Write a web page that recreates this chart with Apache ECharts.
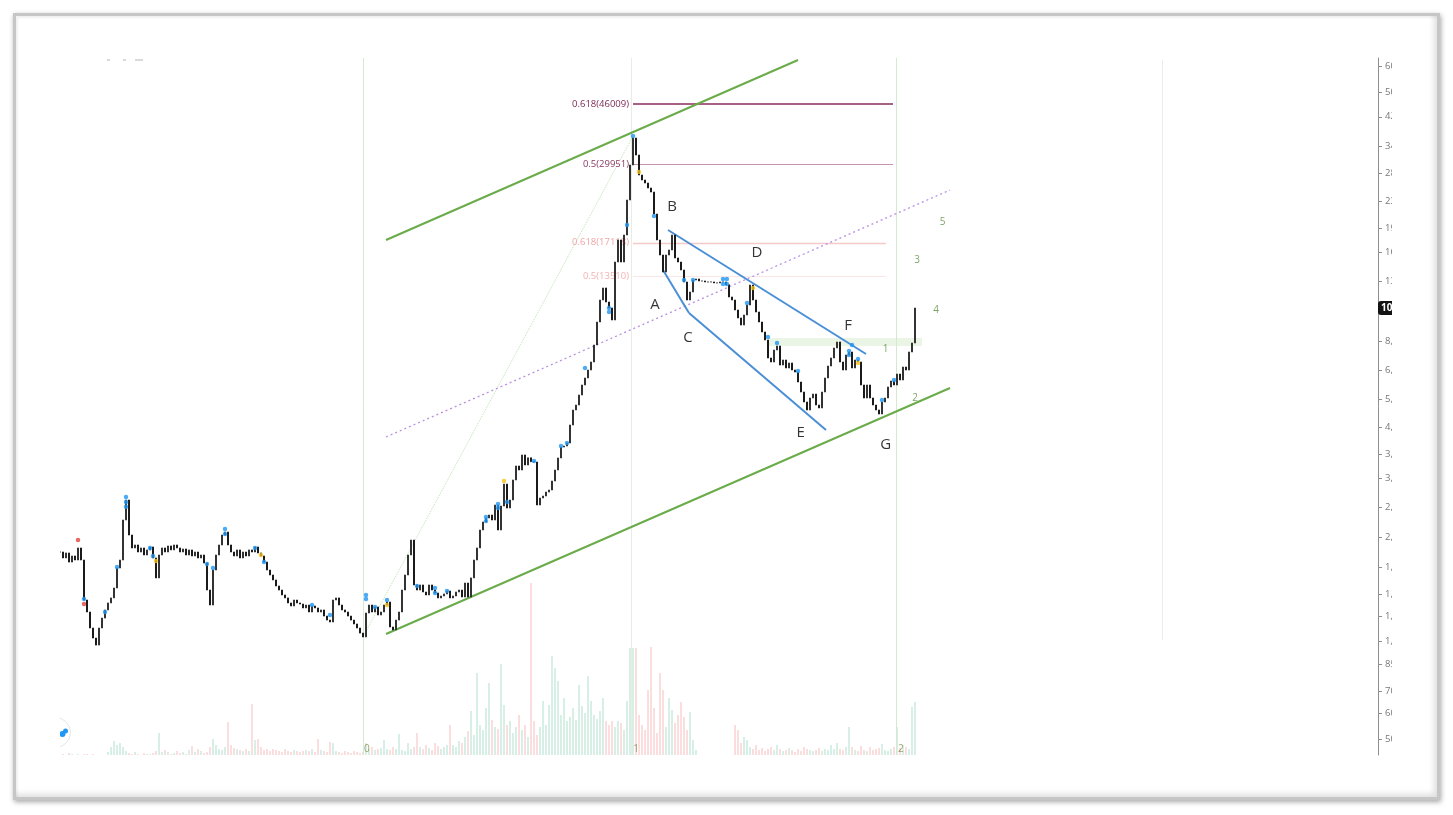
<!DOCTYPE html>
<html>
<head>
<meta charset="utf-8">
<script src="https://cdn.jsdelivr.net/npm/echarts@6/dist/echarts.min.js"></script>
<style>
html,body{margin:0;padding:0;background:#fff;width:1453px;height:815px;overflow:hidden;}
#frame{position:absolute;left:13px;top:13px;width:1427px;height:787px;box-sizing:border-box;border:3px solid #c6c6c6;background:#fff;
 box-shadow:1px 2px 5px rgba(0,0,0,0.35), inset -7px -7px 6px -4px rgba(0,0,0,0.13), inset 2px 2px 2px rgba(0,0,0,0.06);}
#chart{position:absolute;left:60px;top:0;width:1380px;height:815px;}
#mask{position:absolute;left:1392px;top:19px;width:34px;height:768px;background:#fff;}
</style>
</head>
<body>
<div id="frame"></div>
<div id="chart"></div>
<div id="mask"></div>
<script>
// ---------- data ----------
const closes = [
1892,1813,1879,1761,1839,1787,1947,1787,1344,1234,
1101,1025,975,1101,1182,1252,1316,1364,1464,1688,
1787,2376,2740,2135,1947,1989,1892,1947,1852,1920,
1961,1813,1573,1852,1947,1892,1975,1920,1989,1947,
1892,1933,1852,1920,1839,1892,1813,1852,1749,1443,
1297,1664,1852,1989,2135,2181,1989,1892,1839,1920,
1813,1892,1839,1920,1892,1961,1879,1839,1761,1664,
1606,1550,1485,1443,1393,1364,1316,1288,1344,1316,
1306,1270,1297,1234,1288,1270,1234,1252,1199,1165,
1149,1344,1364,1297,1252,1234,1199,1165,1133,1101,
1062,1033,1225,1297,1234,1279,1208,1234,1297,1325,
1109,1086,1165,1234,1443,1606,1852,2060,1496,1443,
1496,1423,1393,1496,1443,1413,1364,1383,1403,1433,
1364,1383,1423,1443,1373,1517,1373,1573,1787,1947,
2213,2343,2410,2462,2376,2644,2213,2625,3070,2588,
2740,3160,3491,3393,3776,3516,3700,3600,3592,2644,
2779,2819,2900,2942,3137,3393,3696,3996,4025,4112,
4675,5202,5390,5788,6216,6534,6916,7322,8264,9735,
11387,12404,11226,10757,9876,14926,17458,14926,18091,23213,
29783,36100,31981,27736,26766,26201,25285,24574,21009,17458,
15689,13900,15689,16258,18091,15358,14926,14099,12945,11387,
12055,13130,13225,13040,13040,12950,12950,12950,12860,12860,
12950,12950,12690,11633,11387,10605,10018,9529,10233,10988,
12670,11387,10455,9735,9067,8564,7534,7322,7975,8206,
7166,7427,7016,7270,6916,6819,6350,5913,5507,5202,
5666,5829,5390,5277,5913,6534,7116,7534,8090,8443,
7322,6916,7696,7863,7016,7427,7322,6216,5666,6216,
5666,5390,5202,5055,5507,5666,6128,6395,6216,6722,
6441,7065,6916,7863,8383,10757
];
const volumes = [
0,1,0,2,1,0,1,0,1,1,
0,1,0,0,0,0,3,8,14,10,
12,8,4,2,1,3,1,0,2,1,
1,2,4,22,3,5,3,1,2,4,
2,3,1,5,9,3,6,4,2,3,
8,16,10,6,5,8,33,10,7,6,
5,4,6,4,51,15,16,8,5,6,
4,6,5,4,3,6,4,3,5,4,
3,4,5,4,6,3,16,5,4,3,
13,12,4,3,2,4,3,2,4,3,
2,3,12,6,8,5,6,7,15,6,
5,8,6,21,5,4,12,6,8,22,
8,6,10,7,5,12,9,6,8,10,
30,10,8,14,12,18,24,44,20,82,
30,25,47,72,35,28,26,91,50,30,
34,22,28,40,25,30,18,172,34,20,
28,54,30,50,99,87,74,40,57,34,
38,47,35,70,49,42,79,54,40,36,
44,57,34,30,34,28,34,32,25,54,
107,107,107,40,30,25,65,108,47,22,
82,65,28,57,45,32,40,53,38,25,
43,15,5,0,0,0,0,0,0,0,
0,0,0,0,0,30,25,12,18,15,
8,6,10,5,7,4,6,8,5,10,
6,4,5,7,5,3,6,4,8,6,
5,4,5,7,4,6,5,10,6,12,
6,5,8,28,8,5,4,9,5,4,
8,5,6,7,11,5,4,6,8,28,
7,10,8,6,48,53
];
const yTicks = [500,600,700,850,1000,1200,1400,1700,2100,2600,3200,3800,4600,5600,6900,8500,13000,16000,19000,23000,28000,34000,42000,50000,60000];
const lastPrice = 10757;

const blueDots = [[8,1354],[15,1234],[19,1700],[22,2800],[22,2700],[22,2610],[30,1947],[31,1839],[49,1737],[51,1688],[55,2229],[55,2150],[65,1947],[68,1761],[84,1297],[90,1208],[102,1393],[102,1354],[105,1279],[109,1344],[119,1485],[125,1464],[125,1413],[129,1433],[142,2428],[142,2359],[146,2663],[146,2588],[149,2701],[158,3617],[167,4025],[169,4112],[175,7016],[183,10757],[183,10455],[189,19426],[191,36617],[198,20713],[208,13130],[211,13130],[221,13225],[222.3,13225],[221,12761],[222.3,12761],[229,11147],[236,8750],[239,8383],[246,6867],[263,7919],[263,7696],[264,8264],[266,7481],[274,5585],[278,6441]];
const yellowDots = [[32,1774],[67,1852],[109,1297],[148,3137],[193,28336],[231,12404],[266,7270]];
const redDots = [[6,2060],[8,1306]];

const channelUpper = [[108.67,17458],[246,62918]];
const channelLower = [[108.67,1055],[296.67,6085]];
const channelMid = [[108.67,4291],[296.67,24926]];
const peakGuide = [[101,1033],[191,36617]];
const triUpper = [[202.67,18747],[268.67,7751]];
const triLower = [[201,14099],[209.67,10381],[255.33,4512]];

const fibNames = ['0.618(46009)','0.5(29951)','0.618(17118)','0.5(13510)'];
const fibValues = [46009,29951,17118,13510];
const fibStart = [191,191,191,191];
const fibEnd = [277.67,277.67,275.33,275.33];

const sessionLines = [101,190.33,278.67];
const sessionNames = ['0','1','2'];
const sessionLabelPos = [[102.3,465],[192,465],[280.3,465]];
const greyLine = [[367.33,63000],[367.33,1011]];
const band = [[236,8687],[287.33,8206]];

const letterNames = ['A','B','C','D','E','F','G'];
const letterPos = [[198.3,10988],[204,22084],[209.3,8687],[232.3,15914],[246.9,4415],[262.7,9462],[275.2,4054]];
const waveNames = ['1','2','3','4','5'];
const wavePos = [[275.2,8032],[285,5666],[285.7,15136],[292,10605],[294.2,19847]];

// ---------- build ----------
const XMAX = 439.33;
const candles = closes.map((c,i)=>{
  const o = i===0 ? c : closes[i-1];
  return [i, o, c, Math.min(o,c), Math.max(o,c)];
});
const volData = volumes.map((v,i)=>{
  const up = candles[i][2] >= candles[i][1];
  return {value:[i,v], itemStyle:{color: up ? 'rgba(120,200,170,0.42)' : 'rgba(240,140,140,0.42)'}};
});

function pairLine(pts, style){
  const out=[];
  for(let k=0;k<pts.length-1;k++){
    out.push([{coord:pts[k], lineStyle:style, label:{show:false}},{coord:pts[k+1]}]);
  }
  return out;
}
const fibStyles = [
  {color:'#8a2d5c',width:1.6,type:'solid'},
  {color:'#c693ac',width:1,type:'solid'},
  {color:'#f6c9c9',width:1.4,type:'solid'},
  {color:'#fbe6e6',width:1,type:'solid'}
];
const fibLabelColors = ['#7e2a54','#8a3a62','#f2a6a6','#f3b2b2'];

const mlData = [];
fibValues.forEach((v,k)=>{
  mlData.push([
    {coord:[fibStart[k],v], lineStyle:fibStyles[k],
     label:{show:true, position:'start', distance:4, formatter:fibNames[k], color:fibLabelColors[k], fontSize:9.5, fontFamily:'Open Sans'}},
    {coord:[fibEnd[k],v]}
  ]);
});
sessionLines.forEach((x,k)=>{
  mlData.push({xAxis:x, lineStyle:{color: k===1 ? '#e6eee4' : '#d3ead0', width:1, type:'solid'}, label:{show:false}});
});
mlData.push([{coord:greyLine[0], lineStyle:{color:'#ececec',width:1,type:'solid'}, label:{show:false}},{coord:greyLine[1]}]);
pairLine(peakGuide,{color:'#b9e0b0',width:1,type:'dotted'}).forEach(d=>mlData.push(d));
pairLine(channelMid,{color:'#b98fe0',width:1.3,type:[2,3]}).forEach(d=>mlData.push(d));
pairLine(channelUpper,{color:'#6aab4a',width:2,type:'solid'}).forEach(d=>mlData.push(d));
pairLine(channelLower,{color:'#6aab4a',width:2,type:'solid'}).forEach(d=>mlData.push(d));
pairLine(triUpper,{color:'#4a8fd6',width:2,type:'solid'}).forEach(d=>mlData.push(d));
pairLine(triLower,{color:'#4a8fd6',width:2,type:'solid'}).forEach(d=>mlData.push(d));

const chart = echarts.init(document.getElementById('chart'), null, {renderer:'canvas'});
chart.setOption({
  animation:false,
  backgroundColor:'transparent',
  grid:[
    {left:0, right:62, top:58, bottom:60, containLabel:false, outerBoundsMode:'none'},
    {left:0, right:62, top:580, bottom:60, containLabel:false, outerBoundsMode:'none'}
  ],
  xAxis:[
    {type:'value', gridIndex:0, min:0, max:XMAX, show:false},
    {type:'value', gridIndex:1, min:0, max:XMAX, show:false}
  ],
  yAxis:[
    {type:'log', logBase:10, gridIndex:0, position:'right', min:445.6, max:63826,
     splitLine:{show:false},
     axisLine:{show:true, onZero:false, lineStyle:{color:'#8f8f8f', width:1}},
     axisTick:{show:true, length:4, customValues:yTicks, lineStyle:{color:'#8f8f8f'}},
     axisLabel:{show:true, customValues:yTicks, color:'#777', fontSize:9.5, margin:7, fontFamily:'Open Sans'},
     axisPointer:{show:true, value:lastPrice, status:'show', triggerTooltip:false,
       lineStyle:{opacity:0}, handle:{show:false},
       label:{show:true, backgroundColor:'#131313', color:'#fff', fontSize:10, fontWeight:'bold', padding:[2,3,2,3], margin:0,
              fontFamily:'Open Sans', formatter:p=>String(lastPrice)}}},
    {type:'value', gridIndex:1, min:0, max:175, show:false, axisLine:{onZero:false}}
  ],
  axisPointer:{triggerOn:'none'},
  graphic:[
    {type:'circle', shape:{cx:-4.5, cy:732.5, r:15}, style:{fill:'#fff', stroke:'#e4e4e4', lineWidth:1}, z:100},
    {type:'circle', shape:{cx:2.5, cy:734, r:3}, style:{fill:'#2196f3'}, z:101},
    {type:'circle', shape:{cx:5.5, cy:731, r:2.5}, style:{fill:'#2196f3'}, z:101},
    {type:'rect', shape:{x:47, y:59.5, width:3, height:1}, style:{fill:'#b5b5b5'}},
    {type:'rect', shape:{x:63, y:59.5, width:3, height:1}, style:{fill:'#b5b5b5'}},
    {type:'rect', shape:{x:75, y:59.5, width:8, height:1}, style:{fill:'#b5b5b5'}}
  ],
  series:[
    {type:'bar', name:'vol', xAxisIndex:1, yAxisIndex:1, data:volData, barWidth:1.4, silent:true, z:1},
    {type:'candlestick', name:'price', xAxisIndex:0, yAxisIndex:0, barWidth:1.5,
     encode:{x:0, y:[1,2,3,4]},
     data:candles,
     itemStyle:{color:'#333', color0:'#1a1a1a', borderColor:'#333', borderColor0:'#1a1a1a', borderWidth:1},
     z:3,
     markArea:{silent:true, itemStyle:{color:'rgba(170,215,150,0.25)'},
       data:[[{coord:band[0]},{coord:band[1]}]]},
     markLine:{silent:true, symbol:['none','none'], label:{show:false}, data:mlData, z:2}
    },
    {type:'scatter', name:'blue', data:blueDots, symbol:'circle', symbolSize:4.5, itemStyle:{color:'#2196f3'}, z:5, silent:true},
    {type:'scatter', name:'yellow', data:yellowDots, symbol:'circle', symbolSize:4.5, itemStyle:{color:'#f6c21c'}, z:5, silent:true},
    {type:'scatter', name:'red', data:redDots, symbol:'circle', symbolSize:4.5, itemStyle:{color:'#e0463f'}, z:5, silent:true},
    {type:'scatter', name:'letters', symbolSize:0, silent:true, z:6,
     data:letterPos.map((p,k)=>({value:p, name:letterNames[k]})),
     label:{show:true, position:'inside', formatter:p=>p.name, color:'#000', fontSize:15, fontFamily:'Open Sans'}},
    {type:'scatter', name:'waves', symbolSize:0, silent:true, z:6,
     data:wavePos.map((p,k)=>({value:p, name:waveNames[k]})),
     label:{show:true, position:'inside', formatter:p=>p.name, color:'#5d8f3c', fontSize:10, fontFamily:'Open Sans'}},
    {type:'scatter', name:'sessions', symbolSize:0, silent:true, z:6,
     data:sessionLabelPos.map((p,k)=>({value:p, name:sessionNames[k]})),
     label:{show:true, position:'inside', formatter:p=>p.name, color:'#8a8a4a', fontSize:10, fontFamily:'Open Sans'}}
  ]
});
</script>
</body>
</html>
